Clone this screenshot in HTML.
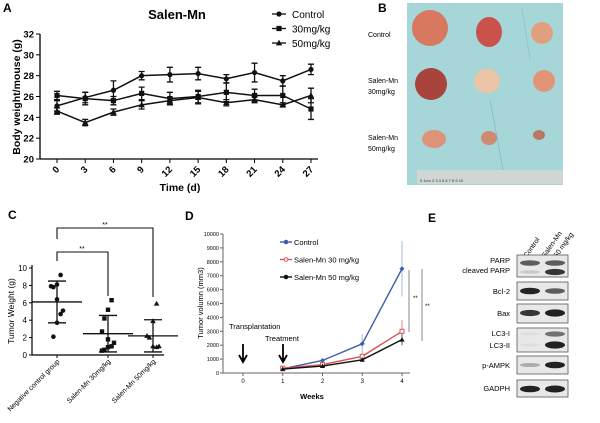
<!DOCTYPE html>
<html><head><meta charset="utf-8"><style>
body{margin:0;background:#fff;}
svg{display:block;font-family:"Liberation Sans",Arial,sans-serif;}
</style></head><body>
<svg id="fig" width="600" height="423" viewBox="0 0 600 423" xmlns="http://www.w3.org/2000/svg">
<g id="pA"></g>
<g id="pB">
 <text x="378" y="12" font-size="12" font-weight="bold">B</text>
 <text x="368" y="37" font-size="7">Control</text>
 <text x="368" y="83" font-size="7">Salen-Mn</text>
 <text x="368" y="94" font-size="7">30mg/kg</text>
 <text x="368" y="140" font-size="7">Salen-Mn</text>
 <text x="368" y="151" font-size="7">50mg/kg</text>
 <rect x="407" y="3" width="156" height="182" fill="#a6d6d8"/>
 <line x1="522" y1="8" x2="530" y2="60" stroke="#8cc4c8" stroke-width="0.8"/>
 <line x1="490" y1="100" x2="505" y2="180" stroke="#7fbcc2" stroke-width="0.8"/>
 <ellipse cx="430" cy="28" rx="18" ry="18" fill="#d8785e"/>
 <ellipse cx="489" cy="32" rx="13" ry="15" fill="#c9524a"/>
 <ellipse cx="542" cy="33" rx="11" ry="11" fill="#e0a080"/>
 <ellipse cx="431" cy="84" rx="16" ry="16" fill="#a8443c"/>
 <ellipse cx="487" cy="81" rx="13" ry="12" fill="#ecc4a6"/>
 <ellipse cx="544" cy="81" rx="11" ry="11" fill="#e09478"/>
 <ellipse cx="434" cy="139" rx="12" ry="9" fill="#de9278"/>
 <ellipse cx="489" cy="138" rx="8" ry="7" fill="#d08a70"/>
 <ellipse cx="539" cy="135" rx="6" ry="5" fill="#b87864"/>
 <rect x="417" y="170" width="146" height="14" fill="#cfd6d4"/>
 <text x="420" y="182" font-size="4" fill="#333">0  1cm  2   3   4   5   6   7   8   9  10</text>
</g>
<g id="pC"></g>
<g id="pD"></g>
<g id="pE"></g>
</svg>
<script>
const NS="http://www.w3.org/2000/svg";
function mk(p,t,a,txt){const e=document.createElementNS(NS,t);for(const k in a)e.setAttribute(k,a[k]);if(txt!==undefined)e.textContent=txt;p.appendChild(e);return e;}

// ---------- Panel A data ----------
const aDays=[0,3,6,9,12,15,18,21,24,27];
const aControl=[25.1,25.9,26.6,28.0,28.1,28.2,27.7,28.3,27.5,28.6];
const aControlErr=[0.5,0.5,0.9,0.4,0.7,0.6,0.4,0.9,0.5,0.5];
const a30=[26.1,25.8,25.6,26.3,25.8,26.0,26.4,26.1,26.1,24.8];
const a30Err=[0.4,0.6,0.4,0.6,0.6,0.6,0.9,0.6,0.9,1.0];
const a50=[24.6,23.5,24.5,25.2,25.6,25.9,25.4,25.7,25.2,26.1];
const a50Err=[0.3,0.3,0.3,0.4,0.3,0.6,0.3,0.3,0.2,0.7];
const aYTicks=[20,22,24,26,28,30,32];

// ---------- Panel C data ----------
const cGroups=["Negative control group","Salen-Mn 30mg/kg","Salen-Mn 50mg/kg"];
const cCtrl=[9.2,8.1,7.8,7.9,6.4,5.1,4.7,3.7,2.1];
const c30=[6.3,5.2,4.2,2.7,1.8,1.4,1.0,0.9,0.6,0.5];
const c50=[5.9,3.9,2.0,2.2,1.0,1.0,0.9];
const cMean=[6.1,2.45,2.2];
const cSD=[2.4,2.1,1.85];
const cYTicks=[0,2,4,6,8,10];

// ---------- Panel D data ----------
const dWeeks=[1,2,3,4];
const dControl=[300,900,2100,7500];
const dControlErr=[50,100,700,2000];
const d30=[350,600,1200,3000];
const d30Err=[50,80,200,800];
const d50=[280,500,950,2400];
const d50Err=[40,60,100,400];
const dYTicks=[0,1000,2000,3000,4000,5000,6000,7000,8000,9000,10000];
const dXTicks=[0,1,2,3,4];

// ---------- Panel A ----------
(function(){
 const g=document.getElementById('pA');
 const x=d=>57+(d/27)*254, y=v=>159-(v-20)/12*125;
 mk(g,'text',{x:3,y:12,'font-size':12,'font-weight':'bold',},'A');
 mk(g,'text',{x:177,y:19,'font-size':13,'font-weight':'bold','text-anchor':'middle',},'Salen-Mn');
 mk(g,'line',{x1:40,y1:34,x2:40,y2:159,stroke:'#000','stroke-width':1.3});
 mk(g,'line',{x1:40,y1:159,x2:318,y2:159,stroke:'#000','stroke-width':1.3});
 aYTicks.forEach(t=>{mk(g,'line',{x1:36,y1:y(t),x2:40,y2:y(t),stroke:'#000'});
  const e=mk(g,'text',{x:34,y:y(t)+3.5,'font-size':9.5,'text-anchor':'end','font-weight':'bold'},t);
  });
 aDays.forEach(d=>{mk(g,'line',{x1:x(d),y1:159,x2:x(d),y2:163,stroke:'#000'});
  const e=mk(g,'text',{x:x(d)+3,y:170,'font-size':9.5,'font-weight':'bold','text-anchor':'end',transform:`rotate(-45 ${x(d)+3} 170)`},d);
  });
 mk(g,'text',{x:180,y:191,'font-size':10.5,'font-weight':'bold','text-anchor':'middle',},'Time (d)');
 mk(g,'text',{x:20,y:97,'font-size':10.5,'font-weight':'bold','text-anchor':'middle',transform:'rotate(-90 20 97)',},'Body weight/mouse (g)');
 function series(vals,errs,shape,name){
  const s=mk(g,'g',{});
  mk(s,'polyline',{points:vals.map((v,i)=>x(aDays[i])+','+y(v)).join(' '),fill:'none',stroke:'#111','stroke-width':1.5});
  vals.forEach((v,i)=>{const cx=x(aDays[i]),t=y(v+errs[i]),b=y(v-errs[i]);
   mk(s,'path',{d:`M${cx},${t}V${b}M${cx-3},${t}H${cx+3}M${cx-3},${b}H${cx+3}`,stroke:'#111','stroke-width':1.3,fill:'none'});
   drawShape(s,shape,cx,y(v));});
 }
 function drawShape(p,shape,cx,cy){
  if(shape==='c')mk(p,'circle',{cx,cy,r:2.6,fill:'#111'});
  else if(shape==='s')mk(p,'rect',{x:cx-2.6,y:cy-2.6,width:5.2,height:5.2,fill:'#111'});
  else mk(p,'path',{d:`M${cx},${cy-3.2}L${cx+3.2},${cy+2.4}L${cx-3.2},${cy+2.4}Z`,fill:'#111'});
 }
 series(aControl,aControlErr,'c','series-control');
 series(a30,a30Err,'s','series-30mg');
 series(a50,a50Err,'t','series-50mg');
 [['Control','c'],['30mg/kg','s'],['50mg/kg','t']].forEach((l,i)=>{
  const yy=14+i*14.5;const lg=mk(g,'g',{});
  mk(lg,'line',{x1:272,y1:yy,x2:286,y2:yy,stroke:'#111','stroke-width':1.3});drawShape(lg,l[1],279,yy);
  mk(lg,'text',{x:292,y:yy+4,'font-size':10},l[0]);});
})();

// ---------- Panel C ----------
(function(){
 const g=document.getElementById('pC');
 const cx=[57,108,153], y=v=>355-v/10*87;
 mk(g,'text',{x:8,y:219,'font-size':12,'font-weight':'bold',},'C');
 mk(g,'line',{x1:32,y1:265,x2:32,y2:355,stroke:'#000','stroke-width':1.2});
 mk(g,'line',{x1:32,y1:355,x2:164,y2:355,stroke:'#000','stroke-width':1.2});
 cYTicks.forEach(t=>{mk(g,'line',{x1:29,y1:y(t),x2:32,y2:y(t),stroke:'#000'});
  const e=mk(g,'text',{x:27,y:y(t)+3,'font-size':8,'text-anchor':'end'},t);
  });
 mk(g,'text',{x:14,y:311,'font-size':8.5,'text-anchor':'middle',transform:'rotate(-90 14 311)',},'Tumor Weight (g)');
 cGroups.forEach((n,i)=>{mk(g,'line',{x1:cx[i],y1:355,x2:cx[i],y2:358,stroke:'#000'});
  const e=mk(g,'text',{x:cx[i]+3,y:362,'font-size':7,'text-anchor':'end',transform:`rotate(-45 ${cx[i]+3} 362)`},n);
  });
 const pts=[cCtrl,c30,c50];
 pts.forEach((arr,i)=>{const s=mk(g,'g',{});
  const m=cMean[i],sd=cSD[i];
  mk(s,'path',{d:`M${cx[i]},${y(m+sd)}V${y(m-sd)}M${cx[i]-9},${y(m+sd)}H${cx[i]+9}M${cx[i]-9},${y(m-sd)}H${cx[i]+9}M${cx[i]-25},${y(m)}H${cx[i]+25}`,stroke:'#111','stroke-width':1.3,fill:'none'});
  arr.forEach((v,j)=>{const off=((j%3)-1)*6*(j%2?1:-0.6);const px=cx[i]+off,py=y(v);
   if(i===0)mk(s,'circle',{cx:px,cy:py,r:2.3,fill:'#111'});
   else if(i===1)mk(s,'rect',{x:px-2.2,y:py-2.2,width:4.4,height:4.4,fill:'#111'});
   else mk(s,'path',{d:`M${px},${py-2.8}L${px+2.8},${py+2}L${px-2.8},${py+2}Z`,fill:'#111'});});});
 mk(g,'path',{d:'M57,239V228H153V297',fill:'none',stroke:'#111','stroke-width':1.1,});
 mk(g,'path',{d:'M57,261V252H108V296',fill:'none',stroke:'#111','stroke-width':1.1,});
 mk(g,'text',{x:105,y:227,'font-size':7,'text-anchor':'middle'},'**');
 mk(g,'text',{x:82,y:251,'font-size':7,'text-anchor':'middle'},'**');
})();

// ---------- Panel D ----------
(function(){
 const g=document.getElementById('pD');
 const x=w=>243+w*39.75, y=v=>373-v/10000*139;
 mk(g,'text',{x:185,y:220,'font-size':12,'font-weight':'bold',},'D');
 mk(g,'line',{x1:223,y1:234,x2:223,y2:373,stroke:'#666','stroke-width':1});
 mk(g,'line',{x1:223,y1:373,x2:410,y2:373,stroke:'#666','stroke-width':1});
 dYTicks.forEach(t=>{mk(g,'line',{x1:220,y1:y(t),x2:223,y2:y(t),stroke:'#666'});
  const e=mk(g,'text',{x:219,y:y(t)+2,'font-size':5.5,'text-anchor':'end'},t);
  });
 dXTicks.forEach(t=>{mk(g,'line',{x1:x(t),y1:373,x2:x(t),y2:376,stroke:'#666'});
  const e=mk(g,'text',{x:x(t),y:383,'font-size':6,'text-anchor':'middle'},t);
  });
 mk(g,'text',{x:203,y:303,'font-size':7.5,'text-anchor':'middle',transform:'rotate(-90 203 303)',},'Tumor volumn (mm3)');
 mk(g,'text',{x:312,y:399,'font-size':7.5,'font-weight':'bold','text-anchor':'middle',},'Weeks');
 function series(vals,errs,col,ecol,mark,name){
  const s=mk(g,'g',{});
  vals.forEach((v,i)=>mk(s,'line',{x1:x(dWeeks[i]),y1:y(v+errs[i]),x2:x(dWeeks[i]),y2:y(v-errs[i]),stroke:ecol,'stroke-width':1}));
  mk(s,'polyline',{points:vals.map((v,i)=>x(dWeeks[i])+','+y(v)).join(' '),fill:'none',stroke:col,'stroke-width':1.4});
  vals.forEach((v,i)=>{const px=x(dWeeks[i]),py=y(v);
   if(mark==='d')mk(s,'path',{d:`M${px},${py-2.5}L${px+2.5},${py}L${px},${py+2.5}L${px-2.5},${py}Z`,fill:col});
   else if(mark==='o')mk(s,'rect',{x:px-2,y:py-2,width:4,height:4,fill:'#fff',stroke:col});
   else mk(s,'path',{d:`M${px},${py-2.6}L${px+2.6},${py+2}L${px-2.6},${py+2}Z`,fill:col});});
 }
 series(dControl,dControlErr,'#3d5fa8','#a9bad8','d','series-control');
 series(d30,d30Err,'#d9534f','#e08a88','o','series-30mg');
 series(d50,d50Err,'#111','#555','t','series-50mg');
 [['Control','#3d5fa8','d'],['Salen-Mn 30 mg/kg','#d9534f','o'],['Salen-Mn 50 mg/kg','#111','t']].forEach((l,i)=>{
  const yy=242+i*17.5;const lg=mk(g,'g',{});
  mk(lg,'line',{x1:280,y1:yy,x2:292,y2:yy,stroke:l[1],'stroke-width':1.4});
  mk(lg,'circle',{cx:286,cy:yy,r:1.8,fill:l[2]==='o'?'#fff':l[1],stroke:l[1]});
  mk(lg,'text',{x:294,y:yy+3,'font-size':7.5},l[0]);});
 mk(g,'text',{x:229,y:329,'font-size':7.5,},'Transplantation');
 mk(g,'text',{x:265,y:341,'font-size':7.5,},'Treatment');
 [243,283].forEach(ax=>mk(g,'path',{d:`M${ax},344V361M${ax-4},355L${ax},362L${ax+4},355`,stroke:'#000','stroke-width':1.8,fill:'none',}));
 mk(g,'line',{x1:409,y1:270,x2:409,y2:332,stroke:'#888'});
 mk(g,'line',{x1:422,y1:269,x2:422,y2:341,stroke:'#888'});
 mk(g,'text',{x:413,y:300,'font-size':6},'**');
 mk(g,'text',{x:425,y:308,'font-size':6},'**');
})();

// ---------- Panel E ----------
const eRows=["PARP","Bcl-2","Bax","LC3","p-AMPK","GADPH"];
(function(){
 const g=document.getElementById('pE');
 mk(g,'text',{x:428,y:222,'font-size':12,'font-weight':'bold',},'E');
 [['Control',527],['Salen-Mn',545],['50 mg/kg',557]].forEach(l=>{
  const e=mk(g,'text',{x:l[1],y:258,'font-size':7,transform:`rotate(-55 ${l[1]} 258)`},l[0]);
  });
 const boxes=[[255,277],[282,300],[304,323],[328,352],[356,374],[380,397]];
 const bands=[[[263,0.7,0.7],[272,0.15,0.9]],[[291,1,0.7]],[[313,0.9,1.2]],[[334,0.05,0.6],[345,0.05,1.2]],[[365,0.3,1]],[[389,1,1.1]]];
 boxes.forEach((b,i)=>{const bx=mk(g,'g',{});
  mk(bx,'rect',{x:517,y:b[0],width:51,height:b[1]-b[0],fill:'#e8e8e8',stroke:'#555','stroke-width':0.8});
  bands[i].forEach(bd=>{[[530,bd[1]],[555,bd[2]]].forEach(l=>{if(l[1]>0.02)mk(bx,'ellipse',{cx:l[0],cy:bd[0],rx:10,ry:1.5+1.8*Math.min(l[1],1.2),fill:'#222','fill-opacity':Math.min(1,l[1])});});});});
 [['PARP',263],['cleaved PARP',273],['Bcl-2',294],['Bax',316],['LC3-I',336],['LC3-II',348],['p-AMPK',368],['GADPH',391]].forEach(l=>{
  const e=mk(g,'text',{x:510,y:l[1],'font-size':7.5,'text-anchor':'end'},l[0]);
  });
})();
</script>
</body></html>
